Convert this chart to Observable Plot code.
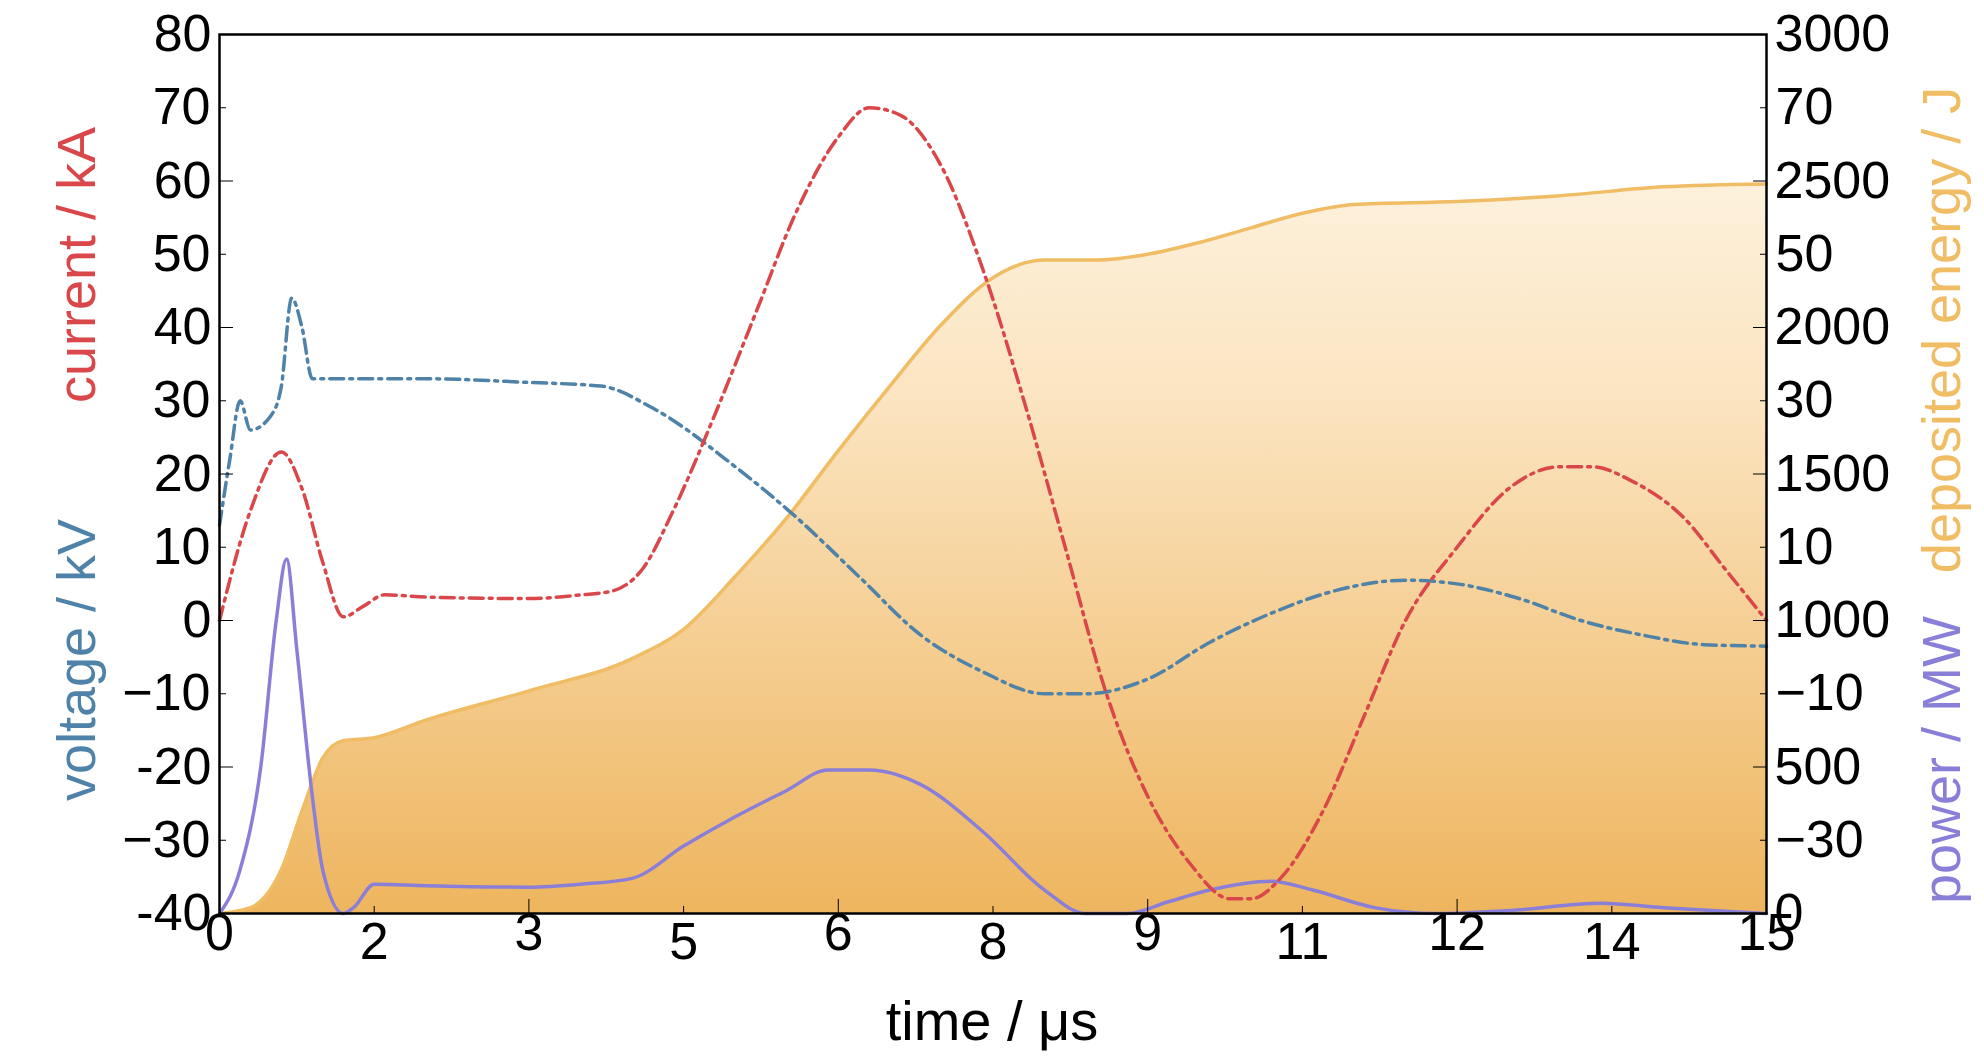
<!DOCTYPE html><html><head><meta charset="utf-8">
<script src="https://cdn.jsdelivr.net/npm/d3@7"></script>
<script src="https://cdn.jsdelivr.net/npm/@observablehq/plot@0.6"></script>
<style>body{margin:0;background:#fff}</style></head><body><div id="c"></div><script>
const currentT=[0,0.3,0.6,0.8,1.0,1.2,1.4,1.6,2,3,3.5,3.8,4.1,4.4,4.8,5.2,5.6,6.0,6.3,6.6,7.0,7.4,7.8,8.2,8.6,9.0,9.4,9.8,10.0,10.3,10.7,11.1,11.5,12,12.5,13,13.3,13.7,14.2,14.6,15];
const currentV=[0,15,23,18,8,0.5,2,3.5,3.2,3,3.5,4,7,15,28,42,56,66,70,69,62,48,30,10,-10,-24,-33,-38,-38,-35,-26,-13,0,10,18,21,21,19,14,7,0];
const voltageT=[0,0.1,0.2,0.3,0.5,0.6,0.7,0.8,0.9,1.0,2,3,3.7,4.2,5,5.6,6.2,6.8,7.4,8,8.4,9,9.6,10.2,10.8,11.5,12,12.6,13.2,13.8,14.4,15];
const voltageV=[13,22,30,26,28,32,44,40,33,33,33,32.5,32,29,21,14,6,-2,-7,-10,-10,-8,-3,1,4,5.5,5,3,0,-2,-3.3,-3.5];
const energyT=[0,0.3,0.6,0.8,1.0,1.2,1.5,2,3,4,4.5,5,5.5,6,6.5,7,7.5,8,8.5,9,9.5,10,10.5,11,12,13,14,15];
const energyV=[0,20,150,350,530,590,600,660,760,870,970,1150,1350,1580,1800,2010,2170,2230,2230,2250,2290,2340,2390,2420,2430,2450,2480,2490];
const powerT=[0,0.2,0.4,0.55,0.65,0.75,0.9,1.0,1.2,1.3,1.5,2,3,3.5,4,4.5,5,5.5,5.9,6.3,6.8,7.4,8,8.4,8.8,9.2,9.6,10.2,10.6,11.2,11.8,12.5,13.4,14,15];
const powerV=[0,150,500,1000,1210,900,400,150,0,20,100,95,90,100,120,230,330,420,490,490,440,280,80,0,0,40,80,110,80,20,0,10,35,20,0];
const leftTicks=[-40,-20,0,20,40,60,80];
const rightTicks=[0,500,1000,1500,2000,2500,3000];
const xTicks=[0,3,6,9,12,15];
const toL=v=>-40+v*0.04;
const cur=currentT.map((t,i)=>({t,v:currentV[i]}));
const vol=voltageT.map((t,i)=>({t,v:voltageV[i]}));
const en=energyT.map((t,i)=>({t,v:toL(energyV[i])}));
const pw=powerT.map((t,i)=>({t,v:toL(powerV[i])}));
const minor=d3.range(-30,80,20);
const minorX=d3.range(1.5,15,3);
const ff="'Liberation Sans Narrow','Liberation Sans',sans-serif";
const p=Plot.plot({width:1984,height:1063,marginLeft:219,marginRight:218,marginTop:34,marginBottom:150,
 style:{fontFamily:ff,fontSize:"52px",color:"#000"},
 x:{domain:[0,15]},y:{domain:[-40,80]},
 marks:[
  Plot.areaY(en,{x:"t",y1:-40,y2:"v",curve:"monotone-x",fill:"url(#eg)"}),
  Plot.lineY(en,{x:"t",y:"v",curve:"monotone-x",stroke:"#f0bc64",strokeWidth:3.5}),
  Plot.lineY(pw,{x:"t",y:"v",curve:"monotone-x",stroke:"#8a7fd8",strokeWidth:3.5}),
  Plot.lineY(vol,{x:"t",y:"v",curve:"monotone-x",stroke:"#4f82a8",strokeWidth:3.5,strokeDasharray:"14,6,3,6"}),
  Plot.lineY(cur,{x:"t",y:"v",curve:"monotone-x",stroke:"#d9474a",strokeWidth:3.5,strokeDasharray:"14,6,3,6"}),
  Plot.axisY({ticks:minor,anchor:"left",tickSize:-7,tickFormat:null,label:null}),
  Plot.axisY({ticks:minor,anchor:"right",tickSize:-7,tickFormat:null,label:null}),
  Plot.axisX({ticks:minorX,tickSize:-7,tickFormat:null,label:null}),
  Plot.axisY({ticks:leftTicks,anchor:"left",tickSize:-14,tickPadding:22,label:null,tickFormat:d=>d}),
  Plot.axisY({ticks:leftTicks,anchor:"right",tickSize:-14,tickPadding:22,label:null,tickFormat:d=>String((d+40)*25)}),
  Plot.axisX({ticks:xTicks,tickSize:-14,tickPadding:14,label:null}),
  Plot.frame({stroke:"#000",strokeWidth:2.5})
 ]});
document.getElementById("c").appendChild(p);
const svg=d3.select(p);
const g=svg.insert("defs",":first-child").append("linearGradient").attr("id","eg").attr("x1",0).attr("x2",0).attr("y1",0).attr("y2",1);
g.append("stop").attr("offset","0%").attr("stop-color","#fdf1dc");
g.append("stop").attr("offset","30%").attr("stop-color","#fbe4c0");
g.append("stop").attr("offset","100%").attr("stop-color","#eeb55e");
const lab=(x,y,txt,col)=>svg.append("text").attr("transform",`translate(${x},${y}) rotate(-90)`).attr("text-anchor","middle").attr("fill",col).attr("font-family","'Liberation Sans',sans-serif").attr("font-size","54px").text(txt);
lab(95,265,"current / kA","#d9474a");
lab(95,660,"voltage / kV","#4f82a8");
lab(1960,330,"deposited energy / J","#f0bc64");
lab(1960,760,"power / MW","#8a7fd8");
svg.append("text").attr("x",992).attr("y",1040).attr("text-anchor","middle").attr("font-family",ff).attr("font-size","56px").text("time / μs");
</script></body></html>
